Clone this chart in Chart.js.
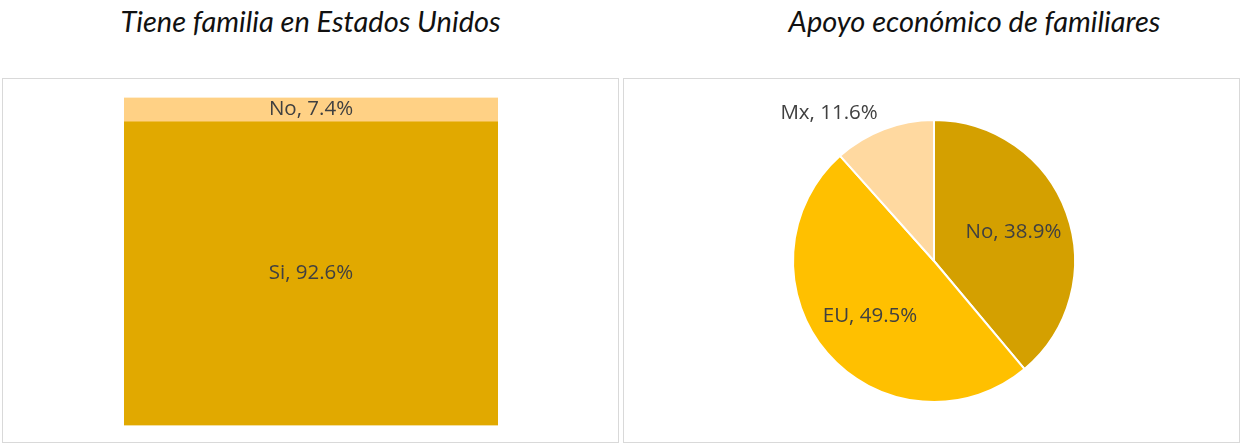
<!DOCTYPE html>
<html>
<head>
<meta charset="utf-8">
<script src="https://cdn.jsdelivr.net/npm/chart.js@4.4.1/dist/chart.umd.min.js"></script>
<style>
  html, body { margin: 0; padding: 0; background: #ffffff; }
  body { width: 1242px; height: 445px; position: relative; overflow: hidden; font-family: "Open Sans", sans-serif; }
  .title { position: absolute; top: 1px; font-style: italic; font-weight: 400; font-size: 29px; line-height: 40px; color: #111; font-family: Lato, sans-serif; text-align: center; white-space: nowrap; }
  .panel { position: absolute; top: 78px; width: 617px; height: 365px; box-sizing: border-box; border: 1px solid #d9d9d9; }
  .panel canvas { display: block; }
</style>
</head>
<body>
<div class="title" style="left:2px;width:617px;">Tiene familia en Estados Unidos</div>
<div class="title" style="left:666px;width:617px;">Apoyo económico de familiares</div>
<div class="panel" style="left:2px;"><canvas id="barChart" width="615" height="363"></canvas></div>
<div class="panel" style="left:623px;"><canvas id="pieChart" width="615" height="363"></canvas></div>
<script>
// ---- data ----
const barCategories = ["Tiene familia en Estados Unidos"];
const barSeriesLabels = ["Si", "No"];
const barSi = [92.6];
const barNo = [7.4];

const pieLabels = ["No", "EU", "Mx"];
const pieValues = [38.9, 49.5, 11.6];

// ---- styles ----
const barColors = ["#E1A900", "#FFD185"];
const pieColors = ["#D4A000", "#FFC000", "#FFD9A0"];
const labelColor = "#404040";
const labelFont = "20.5px 'Open Sans', sans-serif";

const barLabelPlugin = {
  id: "barLabels",
  afterDatasetsDraw(chart) {
    const ctx = chart.ctx;
    ctx.save();
    ctx.font = labelFont;
    ctx.fillStyle = labelColor;
    ctx.textAlign = "center";
    ctx.textBaseline = "middle";
    chart.data.datasets.forEach((ds, di) => {
      const meta = chart.getDatasetMeta(di);
      meta.data.forEach((el, i) => {
        const p = el.getProps(["x", "y", "base"], true);
        const cy = (p.y + p.base) / 2;
        ctx.fillText(ds.label + ", " + ds.data[i].toFixed(1) + "%", p.x, cy);
      });
    });
    ctx.restore();
  }
};

const pieLabelPlugin = {
  id: "pieLabels",
  afterDatasetsDraw(chart) {
    const ctx = chart.ctx;
    const ds = chart.data.datasets[0];
    const meta = chart.getDatasetMeta(0);
    const total = ds.data.reduce((a, b) => a + b, 0);
    ctx.save();
    ctx.font = labelFont;
    ctx.fillStyle = labelColor;
    ctx.textBaseline = "middle";
    meta.data.forEach((arc, i) => {
      const p = arc.getProps(["x", "y", "startAngle", "endAngle", "outerRadius"], true);
      const mid = (p.startAngle + p.endAngle) / 2;
      const share = ds.data[i] / total;
      const text = chart.data.labels[i] + ", " + ds.data[i].toFixed(1) + "%";
      if (share > 0.2) {
        const r = p.outerRadius * 0.6;
        ctx.textAlign = "center";
        ctx.fillText(text, p.x + Math.cos(mid) * r, p.y + Math.sin(mid) * r);
      } else {
        const r = p.outerRadius * 1.12;
        const lx = p.x + Math.cos(mid) * r;
        const ly = p.y + Math.sin(mid) * r;
        ctx.textAlign = Math.cos(mid) < 0 ? "right" : "left";
        ctx.fillText(text, lx, ly);
      }
    });
    ctx.restore();
  }
};

new Chart(document.getElementById("barChart"), {
  type: "bar",
  data: {
    labels: barCategories,
    datasets: [
      { label: barSeriesLabels[0], data: barSi, backgroundColor: barColors[0], borderWidth: 0 },
      { label: barSeriesLabels[1], data: barNo, backgroundColor: barColors[1], borderWidth: 0 }
    ]
  },
  options: {
    responsive: false,
    animation: false,
    layout: { padding: { left: 121, right: 120, top: 18.5, bottom: 16.5 } },
    datasets: { bar: { barPercentage: 1, categoryPercentage: 1 } },
    scales: {
      x: { stacked: true, display: false },
      y: { stacked: true, display: false, min: 0, max: 100 }
    },
    plugins: { legend: { display: false }, tooltip: { enabled: false }, title: { display: false } }
  },
  plugins: [barLabelPlugin]
});

new Chart(document.getElementById("pieChart"), {
  type: "pie",
  data: {
    labels: pieLabels,
    datasets: [{ data: pieValues, backgroundColor: pieColors, borderColor: "#ffffff", borderWidth: 2 }]
  },
  options: {
    responsive: false,
    animation: false,
    layout: { padding: { left: 168, right: 163, top: 40, bottom: 39 } },
    plugins: { legend: { display: false }, tooltip: { enabled: false }, title: { display: false } }
  },
  plugins: [pieLabelPlugin]
});
</script>
</body>
</html>
